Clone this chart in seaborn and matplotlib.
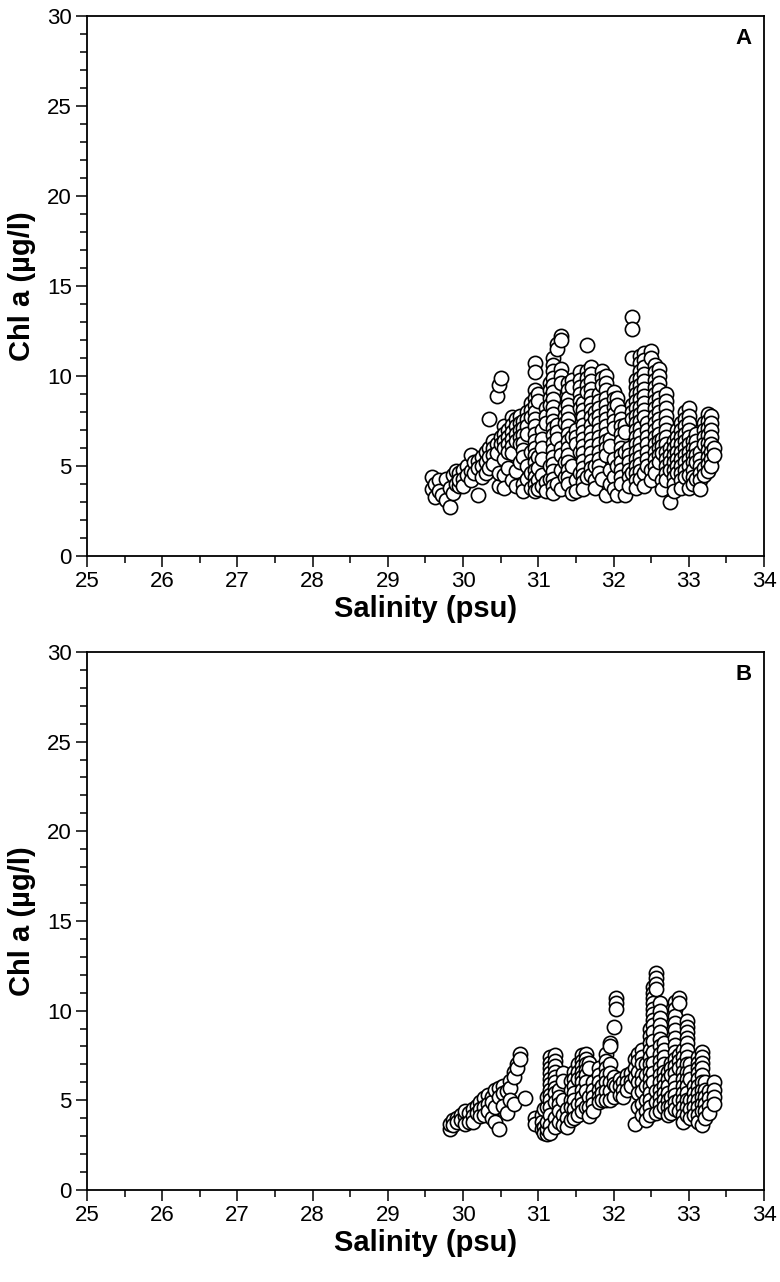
import numpy as np
import pandas as pd
import seaborn as sns
import matplotlib.pyplot as plt
from matplotlib import font_manager
from matplotlib.ticker import MultipleLocator

# panel A: vertical stacks of points, one salinity per stack
sal_a = [29.58, 29.62, 29.68, 29.72, 29.77, 29.82, 29.86, 29.90, 29.95, 30.00,
         30.05, 30.10, 30.15, 30.20, 30.25, 30.30, 30.35, 30.40, 30.45, 30.48,
         30.50, 30.55, 30.60, 30.65, 30.70, 30.75, 30.80, 30.85, 30.90, 30.95,
         31.00, 31.05, 31.10, 31.15, 31.20, 31.25, 31.30, 31.35, 31.40, 31.45,
         31.50, 31.55, 31.60, 31.65, 31.70, 31.75, 31.80, 31.85, 31.90, 31.95,
         32.00, 32.05, 32.10, 32.15, 32.20, 32.25, 32.30, 32.35, 32.40, 32.45,
         32.50, 32.55, 32.60, 32.65, 32.70, 32.75, 32.80, 32.85, 32.90, 32.95,
         33.00, 33.05, 33.10, 33.15, 33.20, 33.25, 33.30, 33.33]
chl_a = [
    [4.4, 3.7], [3.3, 4.0], [4.2, 3.6], [3.4], [3.1, 4.3], [2.7, 3.8], [4.5, 3.5],
    [4.0, 4.7], [4.6, 3.9, 4.2], [4.8, 4.3, 3.9], [5.0, 4.5], [5.6, 4.7, 4.2],
    [5.2, 4.6], [3.4, 5.3, 4.9], [5.5, 5.0, 4.4], [5.8, 5.2, 4.6],
    [7.6, 6.0, 5.5, 4.9], [6.4, 6.0, 5.6, 5.1], [8.9, 6.2, 5.7], [9.5, 3.9, 4.6],
    [9.9, 6.6, 6.2], [7.2, 6.8, 6.4, 6.0, 5.4, 4.5, 3.8], [7.0, 6.6, 6.2, 5.8, 4.9],
    [7.7, 7.3, 6.9, 6.5, 6.1, 5.7, 4.2], [7.6, 7.2, 6.8, 6.4, 4.7, 3.9],
    [7.8, 7.4, 7.0, 6.6, 6.2, 5.2], [7.5, 7.1, 6.7, 6.3, 5.9, 5.5, 4.0, 3.6],
    [8.0, 7.6, 7.2, 6.8, 5.0, 4.3], [8.5, 8.1, 7.7, 5.8, 4.6, 3.8],
    [10.7, 10.2, 9.2, 8.8, 8.4, 8.0, 7.6, 7.2, 6.8, 6.4, 6.0, 5.6, 5.2, 4.8, 4.4, 4.0, 3.6],
    [9.0, 8.6, 5.5, 4.9, 4.2, 3.7], [7.0, 6.5, 6.0, 5.4, 4.5, 3.9],
    [8.2, 7.8, 7.4, 4.1, 3.6], [9.6, 9.2, 8.8, 8.4, 5.0, 4.3],
    [11.0, 10.6, 10.3, 9.9, 9.5, 9.1, 8.7, 8.3, 7.9, 7.5, 7.1, 6.7, 6.3, 5.9, 5.5, 5.1, 4.7, 4.3, 3.9, 3.5],
    [11.8, 11.5, 7.3, 6.9, 6.5, 4.0], [12.2, 12.0, 10.4, 10.0, 9.6, 6.0, 5.6, 4.8, 3.7],
    [8.2, 7.8, 7.4, 5.2, 4.4],
    [9.6, 9.2, 8.8, 8.4, 8.0, 7.6, 7.2, 6.8, 6.4, 6.0, 5.6, 5.2, 4.8, 4.4, 4.0],
    [9.8, 9.4, 6.6, 5.0, 3.5], [7.0, 6.6, 6.2, 4.2, 3.6],
    [10.2, 9.8, 9.4, 9.0, 8.6, 8.2, 5.8, 4.6],
    [8.5, 8.1, 7.7, 7.3, 6.9, 6.5, 6.1, 5.7, 5.3, 4.9, 4.5, 4.1, 3.7],
    [11.7, 10.3, 9.9, 9.5, 9.1, 4.4],
    [10.5, 10.1, 9.7, 9.3, 8.9, 8.5, 8.1, 7.7, 7.3, 6.9, 6.5, 6.1, 5.7, 5.3, 4.9, 4.5],
    [8.0, 7.6, 5.0, 4.2, 3.8],
    [9.0, 8.6, 8.2, 7.8, 7.4, 7.0, 6.6, 6.2, 5.8, 5.4, 5.0, 4.6],
    [10.3, 9.9, 9.5, 4.3],
    [10.0, 9.6, 9.2, 8.8, 8.4, 8.0, 7.6, 7.2, 6.8, 6.4, 6.0, 5.6, 3.4],
    [6.5, 6.1, 4.8, 4.0], [9.1, 8.7, 8.3, 7.9, 7.5, 7.1, 5.4, 4.4, 3.7],
    [8.8, 8.4, 5.0, 3.4], [8.0, 7.6, 7.2, 6.8, 6.4, 6.0, 5.6, 5.2, 4.8, 4.4, 4.0],
    [7.3, 6.9, 5.8, 3.4], [6.0, 5.6, 5.2, 4.8, 4.4, 3.9],
    [13.3, 12.6, 11.0, 8.4, 8.0, 7.6, 4.6],
    [9.8, 9.4, 9.0, 8.6, 8.2, 7.8, 7.4, 7.0, 6.6, 6.2, 5.8, 5.4, 5.0, 4.6, 4.2, 3.8],
    [11.1, 10.7, 10.3, 9.9, 9.5, 9.1, 8.7, 8.3, 7.9, 7.5, 7.1, 6.7, 6.3, 5.9, 5.5, 5.1, 4.7, 4.3],
    [11.3, 10.9, 10.5, 10.1, 9.7, 9.3, 8.9, 8.5, 8.1, 7.7, 4.6, 3.9],
    [7.4, 7.0, 6.6, 6.2, 5.8, 5.4, 5.0], [11.4, 11.0, 4.8, 4.2],
    [10.6, 10.2, 9.8, 9.4, 9.0, 8.6, 8.2, 7.8, 7.4, 7.0, 6.6, 6.2, 5.8, 5.4, 5.0, 4.6],
    [10.4, 10.0, 9.6, 9.2, 8.8, 8.4, 8.0, 7.6, 7.2, 6.8, 6.4, 6.0, 5.6, 5.2],
    [6.5, 6.1, 5.7, 4.2, 3.7],
    [9.0, 8.6, 8.2, 7.8, 7.4, 7.0, 6.6, 6.2, 5.8, 5.4, 5.0, 4.6, 4.2],
    [6.0, 5.6, 5.2, 4.8, 3.0], [6.4, 6.0, 5.6, 5.2, 4.8, 4.4, 4.0, 3.6],
    [7.0, 6.6, 6.2, 5.8, 5.4, 5.0, 4.6],
    [7.4, 7.0, 6.6, 6.2, 5.8, 5.4, 5.0, 4.6, 4.2, 3.8],
    [8.0, 7.6, 7.2, 6.8, 6.4, 6.0, 5.6, 5.2, 4.8, 4.4],
    [8.2, 7.8, 7.4, 7.0, 6.6, 6.2, 5.8, 5.4, 5.0, 4.5, 3.8],
    [6.4, 6.0, 5.6, 5.2, 4.8, 4.4, 4.0], [6.8, 6.4, 6.0, 5.6, 5.2, 4.3],
    [5.8, 5.4, 5.0, 4.6, 4.2, 3.7], [7.4, 7.0, 6.6, 6.2, 4.9, 4.5],
    [7.9, 7.5, 7.1, 6.7, 6.3, 5.9, 5.5, 5.1, 4.7],
    [7.8, 7.4, 7.0, 6.6, 6.2, 5.8, 5.4, 5.0], [6.0, 5.6],
]

# panel B
sal_b = [29.82, 29.86, 29.92, 29.97, 30.03, 30.08, 30.13, 30.18, 30.23, 30.28,
         30.33, 30.38, 30.43, 30.48, 30.53, 30.58, 30.63, 30.68, 30.72, 30.76,
         30.82, 30.95, 31.05, 31.08, 31.12, 31.16, 31.22, 31.28, 31.33, 31.38,
         31.43, 31.48, 31.53, 31.58, 31.63, 31.68, 31.73, 31.80, 31.85, 31.90,
         31.95, 32.00, 32.03, 32.08, 32.13, 32.18, 32.23, 32.28, 32.33, 32.38,
         32.43, 32.48, 32.52, 32.57, 32.62, 32.67, 32.72, 32.77, 32.82, 32.87,
         32.92, 32.97, 33.02, 33.07, 33.12, 33.17, 33.22, 33.27, 33.33]
chl_b = [
    [3.4, 3.7], [3.9, 3.6], [4.0, 3.8], [4.2, 3.9], [4.1, 4.4, 3.7], [4.3, 3.8],
    [4.5, 4.1, 3.8], [4.7, 4.3], [4.9, 4.5, 4.1], [5.1, 4.6, 4.2], [5.3, 4.8, 4.4],
    [5.2, 4.9, 4.0], [5.6, 4.6, 3.8], [5.7, 5.2, 3.4], [5.8, 5.4, 4.7], [5.5, 4.3],
    [6.1, 5.7, 5.0], [6.6, 6.3, 4.8], [7.0, 6.8], [7.6, 7.3], [5.1], [4.0, 3.7],
    [4.2, 3.8, 3.4], [4.5, 3.5, 3.2], [3.1, 3.4, 3.8, 4.6, 5.2],
    [7.4, 7.1, 6.8, 6.5, 6.2, 5.9, 5.6, 5.3, 5.0, 4.6, 4.2, 3.6, 3.2],
    [7.5, 7.2, 6.9, 6.6, 6.3, 6.0, 5.7, 5.4, 4.9, 4.0, 3.5],
    [5.6, 5.2, 4.8, 4.4, 3.8], [6.5, 6.1, 5.0, 4.2, 3.6], [4.5, 4.0, 3.5],
    [6.1, 5.6, 5.0, 4.6, 3.9], [6.6, 6.2, 5.8, 5.4, 5.0, 4.5, 4.0],
    [7.0, 6.6, 6.2, 4.8, 4.2],
    [7.5, 7.2, 6.9, 6.6, 6.3, 6.0, 5.6, 5.2, 4.8, 4.4],
    [7.6, 7.3, 7.0, 6.7, 6.4, 6.0, 5.5, 4.6], [7.1, 6.8, 5.2, 4.6, 4.1],
    [6.0, 5.6, 5.2, 4.8, 4.4], [6.8, 6.4, 6.0, 5.6, 5.2, 4.9], [5.8, 5.4, 5.0],
    [7.6, 7.2, 6.8, 6.4, 6.0, 5.5, 5.0], [8.2, 8.0, 7.0, 6.5, 6.0, 5.5, 5.0],
    [9.1, 6.3, 5.9, 5.2], [10.7, 10.4, 10.1, 5.8], [6.2, 5.8, 5.3],
    [6.0, 5.6, 5.2], [6.4, 6.0, 5.6], [6.5, 6.1, 5.8], [7.3, 6.8, 6.3, 3.7],
    [7.6, 7.2, 6.6, 6.0, 5.4, 4.6], [7.8, 7.4, 7.0, 6.4, 6.0, 5.5, 4.8, 4.2],
    [7.0, 6.4, 5.8, 5.0, 4.4, 3.9],
    [9.0, 8.6, 8.2, 7.8, 7.4, 7.0, 6.6, 6.2, 5.8, 5.4, 5.0, 4.6, 4.2],
    [11.3, 11.0, 10.7, 10.4, 10.1, 9.8, 9.5, 9.2, 8.8, 8.3, 7.7, 7.1, 6.5, 6.0],
    [12.1, 11.8, 11.5, 11.2, 5.5, 4.9, 4.3],
    [10.4, 10.0, 9.6, 9.2, 8.8, 8.4, 8.0, 7.6, 7.2, 6.8, 6.4, 6.0, 5.6, 5.2, 4.8, 4.4],
    [8.2, 7.8, 7.4, 7.0, 6.6, 6.2, 5.8, 5.4, 5.0, 4.6],
    [6.6, 6.2, 5.8, 5.4, 5.0, 4.6, 4.2], [7.1, 6.8, 6.4, 5.2, 4.7, 4.3],
    [10.5, 10.1, 9.7, 9.3, 8.9, 8.5, 8.1, 7.7, 7.3, 6.9, 6.5, 6.1, 5.7, 5.3, 4.9, 4.5],
    [10.7, 10.4, 7.5, 7.2, 6.8, 5.0, 4.4],
    [7.8, 7.4, 7.0, 6.6, 6.2, 5.8, 5.4, 5.0, 4.6, 4.2, 3.8],
    [9.4, 9.1, 8.8, 8.5, 8.2, 7.8, 7.4, 7.0, 6.6, 6.2, 5.8, 5.4, 5.0, 4.6, 4.2],
    [7.0, 6.6, 6.2, 5.0, 4.5, 4.0], [5.8, 5.4, 5.0, 4.6, 4.2],
    [7.4, 7.1, 6.8, 6.5, 6.2, 5.8, 5.4, 5.0, 4.6, 4.2, 3.8],
    [7.7, 7.4, 7.1, 6.8, 6.4, 6.0, 5.6, 5.2, 4.8, 4.4, 3.6],
    [6.0, 5.6, 5.2, 4.8, 4.4, 4.0], [5.5, 5.1, 4.7, 4.3], [6.0, 5.6, 5.2, 4.8],
]


def to_frame(sal, chl):
    rows = [(s, c) for s, col in zip(sal, chl) for c in col]
    return pd.DataFrame(rows, columns=['Salinity', 'Chl'])


sns.set_style('ticks')
names = {f.name for f in font_manager.fontManager.ttflist}
fam = 'Liberation Sans Narrow' if 'Liberation Sans Narrow' in names else 'Liberation Sans'
plt.rcParams['font.family'] = [fam, 'DejaVu Sans']
plt.rcParams['text.color'] = 'black'
plt.rcParams['axes.labelcolor'] = 'black'
plt.rcParams['xtick.color'] = 'black'
plt.rcParams['ytick.color'] = 'black'

fig = plt.figure(figsize=(7.8, 12.82), dpi=100)
ax_a = fig.add_axes([0.1115, 0.5663, 0.868, 0.4212])
ax_b = fig.add_axes([0.1115, 0.0718, 0.868, 0.4197])

for ax, df, tag in [(ax_a, to_frame(sal_a, chl_a), 'A'), (ax_b, to_frame(sal_b, chl_b), 'B')]:
    sns.scatterplot(data=df, x='Salinity', y='Chl', ax=ax, color='white',
                    edgecolor='black', s=105, linewidth=1.2, zorder=3)
    ax.set_xlim(25, 34)
    ax.set_ylim(0, 30)
    ax.xaxis.set_major_locator(MultipleLocator(1))
    ax.xaxis.set_minor_locator(MultipleLocator(0.5))
    ax.yaxis.set_major_locator(MultipleLocator(5))
    ax.yaxis.set_minor_locator(MultipleLocator(1))
    ax.tick_params(which='major', length=8, width=1.1, labelsize=16, pad=3,
                   direction='out', color='black', labelcolor='black')
    ax.tick_params(which='minor', length=5, width=1.1, direction='out', color='black')
    for sp in ax.spines.values():
        sp.set_linewidth(1.3)
        sp.set_color('black')
    ax.set_xlabel('Salinity (psu)', fontsize=21, fontweight='bold', labelpad=2,
                  color='black')
    ax.set_ylabel('Chl a (µg/l)', fontsize=21, fontweight='bold', labelpad=8,
                  color='black')
    ax.text(0.982, 0.958, tag, transform=ax.transAxes, ha='right', va='center',
            fontsize=16, fontweight='bold', color='black')

fig.savefig('out.png', dpi=100)
